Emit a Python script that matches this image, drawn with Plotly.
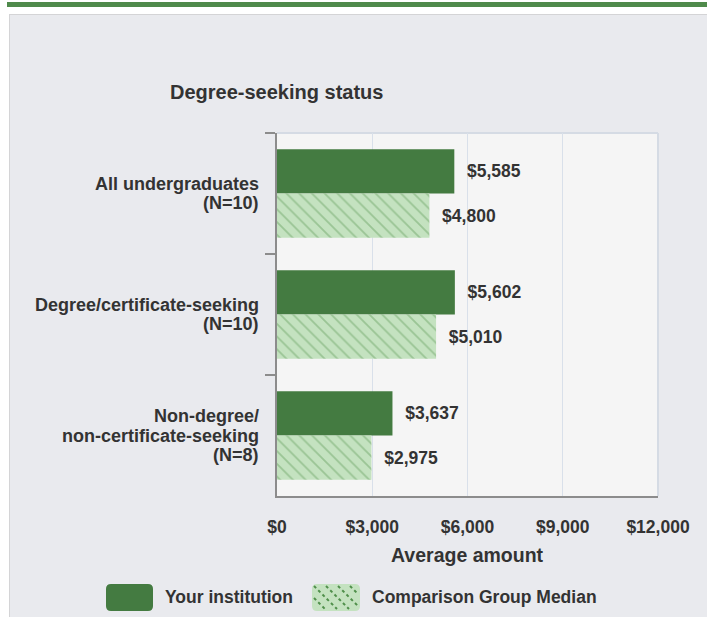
import plotly.graph_objects as go

# ---------------- data ----------------
categories = [
    "All undergraduates<br>(N=10)",
    "Degree/certificate-seeking<br>(N=10)",
    "Non-degree/<br>non-certificate-seeking<br>(N=8)",
]
your_institution = [5585, 5602, 3637]
comparison_median = [4800, 5010, 2975]
x_tickvals = [0, 3000, 6000, 9000, 12000]
x_ticktext = ["$0", "$3,000", "$6,000", "$9,000", "$12,000"]
series_names = ["Your institution", "Comparison Group Median"]
chart_title = "Degree-seeking status"
x_title = "Average amount"

# ---------------- geometry / style ----------------
W, H = 707, 617
L, R, T, B = 277, 49, 133, 121
PW = W - L - R
PH = H - T - B


def px(x):
    return (x - L) / PW


def py(y):
    return (H - B - y) / PH


FONT = "Liberation Sans, Arial, sans-serif"
TXT = "#333333"
DARK = "#447b41"
LIGHT = "#c4e2c0"
PAT = "#6fa669"
AX = "#8c8c8c"
FS = 17.5

fig = go.Figure()
fig.add_trace(go.Bar(
    y=categories, x=your_institution, orientation="h", name=series_names[0],
    marker=dict(color=DARK, line=dict(width=0)),
    texttemplate="\u00a0\u00a0$%{x:,}", textposition="outside",
    textfont=dict(family=FONT, size=FS, color=TXT, weight="bold"),
    constraintext="none", cliponaxis=False, hoverinfo="skip",
))
fig.add_trace(go.Bar(
    y=categories, x=comparison_median, orientation="h", name=series_names[1],
    marker=dict(color=LIGHT, line=dict(width=0),
                pattern=dict(shape="\\", bgcolor=LIGHT, fgcolor=PAT, size=9,
                             solidity=0.2, fillmode="overlay")),
    texttemplate="\u00a0\u00a0$%{x:,}", textposition="outside",
    textfont=dict(family=FONT, size=FS, color=TXT, weight="bold"),
    constraintext="none", cliponaxis=False, hoverinfo="skip",
))

shapes = []
# white page margin + top green rule
shapes.append(dict(type="rect", xref="paper", yref="paper", x0=px(0), x1=px(W),
                   y0=py(14), y1=py(0), fillcolor="white", line=dict(width=0), layer="above"))
shapes.append(dict(type="rect", xref="paper", yref="paper", x0=px(0), x1=px(9),
                   y0=py(H), y1=py(0), fillcolor="white", line=dict(width=0), layer="above"))
shapes.append(dict(type="rect", xref="paper", yref="paper", x0=px(7), x1=px(W),
                   y0=py(7), y1=py(2), fillcolor="#4f8a4b", line=dict(width=0), layer="above"))
# panel border
shapes.append(dict(type="line", xref="paper", yref="paper", x0=px(9), x1=px(W),
                   y0=py(14.5), y1=py(14.5), line=dict(color="#d4d4d6", width=1), layer="above"))
shapes.append(dict(type="line", xref="paper", yref="paper", x0=px(9.5), x1=px(9.5),
                   y0=py(14), y1=py(H), line=dict(color="#d4d4d6", width=1), layer="above"))
# plot frame (top / right)
shapes.append(dict(type="line", xref="paper", yref="paper", x0=0, x1=1, y0=1, y1=1,
                   line=dict(color="#d5dbe4", width=2), layer="below"))
shapes.append(dict(type="line", xref="paper", yref="paper", x0=1, x1=1, y0=0, y1=1,
                   line=dict(color="#d5dbe4", width=2), layer="below"))


def rounded_rect(x0, y0, x1, y1, r):
    pts = [
        f"M{px(x0 + r)},{py(y0)}",
        f"L{px(x1 - r)},{py(y0)}",
        f"Q{px(x1)},{py(y0)} {px(x1)},{py(y0 + r)}",
        f"L{px(x1)},{py(y1 - r)}",
        f"Q{px(x1)},{py(y1)} {px(x1 - r)},{py(y1)}",
        f"L{px(x0 + r)},{py(y1)}",
        f"Q{px(x0)},{py(y1)} {px(x0)},{py(y1 - r)}",
        f"L{px(x0)},{py(y0 + r)}",
        f"Q{px(x0)},{py(y0)} {px(x0 + r)},{py(y0)}",
        "Z",
    ]
    return " ".join(pts)


# legend swatches
SW_Y0, SW_Y1 = 584, 611
sw1 = (106, 153)
sw2 = (312, 360)
shapes.append(dict(type="path", xref="paper", yref="paper",
                   path=rounded_rect(sw1[0], SW_Y0, sw1[1], SW_Y1, 5),
                   fillcolor=DARK, line=dict(width=0), layer="above"))
shapes.append(dict(type="path", xref="paper", yref="paper",
                   path=rounded_rect(sw2[0], SW_Y0, sw2[1], SW_Y1, 5),
                   fillcolor=LIGHT, line=dict(width=0), layer="above"))
# dotted diagonals inside pattern swatch
ix0, ix1, iy0, iy1 = sw2[0] + 2, sw2[1] - 2, SW_Y0 + 2, SW_Y1 - 2
hgt = iy1 - iy0
for a in range(ix0 - 24, ix1, 12):
    t0 = max(0, ix0 - a)
    t1 = min(hgt, ix1 - a)
    if t1 - t0 < 4:
        continue
    shapes.append(dict(type="line", xref="paper", yref="paper",
                       x0=px(a + t0), y0=py(iy0 + t0), x1=px(a + t1), y1=py(iy0 + t1),
                       line=dict(color="#4f8f4a", width=2, dash="dot"), layer="above"))

annotations = []
# category labels, line by line (tight line spacing)
LINE = 19.5
CFS = 18
for cat in categories:
    lines = cat.split("<br>")
    n = len(lines)
    for k, ln in enumerate(lines):
        annotations.append(dict(
            text=ln, xref="paper", yref="y", x=px(261), y=cat,
            xanchor="right", yanchor="middle", showarrow=False,
            yshift=((n - 1) / 2 - k) * LINE,
            font=dict(family=FONT, size=CFS, color=TXT, weight="bold"),
        ))
annotations.append(dict(text=chart_title, xref="paper", yref="paper", x=px(276), y=py(92),
                        xanchor="center", yanchor="middle", showarrow=False,
                        font=dict(family=FONT, size=20, color=TXT, weight="bold")))
annotations.append(dict(text=x_title, xref="paper", yref="paper", x=0.5, y=py(555),
                        xanchor="center", yanchor="middle", showarrow=False,
                        font=dict(family=FONT, size=19.5, color=TXT, weight="bold")))
annotations.append(dict(text=series_names[0], xref="paper", yref="paper", x=px(163), y=py(597),
                        xanchor="left", yanchor="middle", showarrow=False,
                        font=dict(family=FONT, size=FS, color=TXT, weight="bold")))
annotations.append(dict(text=series_names[1], xref="paper", yref="paper", x=px(370), y=py(597),
                        xanchor="left", yanchor="middle", showarrow=False,
                        font=dict(family=FONT, size=FS, color=TXT, weight="bold")))

fig.update_layout(
    width=W, height=H, autosize=False,
    margin=dict(l=L, r=R, t=T, b=B, pad=0),
    paper_bgcolor="#e9eaee", plot_bgcolor="#f5f5f5",
    barmode="group", bargap=0.27, bargroupgap=0,
    showlegend=False,
    shapes=shapes, annotations=annotations,
    xaxis=dict(range=[0, 12000], tickvals=x_tickvals, ticktext=x_ticktext,
               showgrid=True, gridcolor="#d9e0ea", gridwidth=1, zeroline=False,
               showline=True, linecolor=AX, linewidth=2, ticks="",
               ticklabelstandoff=14,
               tickfont=dict(family=FONT, size=FS, color=TXT, weight="bold"),
               fixedrange=True),
    yaxis=dict(type="category", categoryorder="array", categoryarray=categories,
               autorange="reversed", showgrid=False, zeroline=False,
               showline=True, linecolor=AX, linewidth=2,
               ticks="outside", ticklen=10, tickwidth=2, tickcolor=AX,
               tickson="boundaries", showticklabels=False, fixedrange=True),
)

fig.write_html("out.html", config={"displayModeBar": False},
               post_script="document.body.style.margin='0';document.body.style.overflow='hidden';")
